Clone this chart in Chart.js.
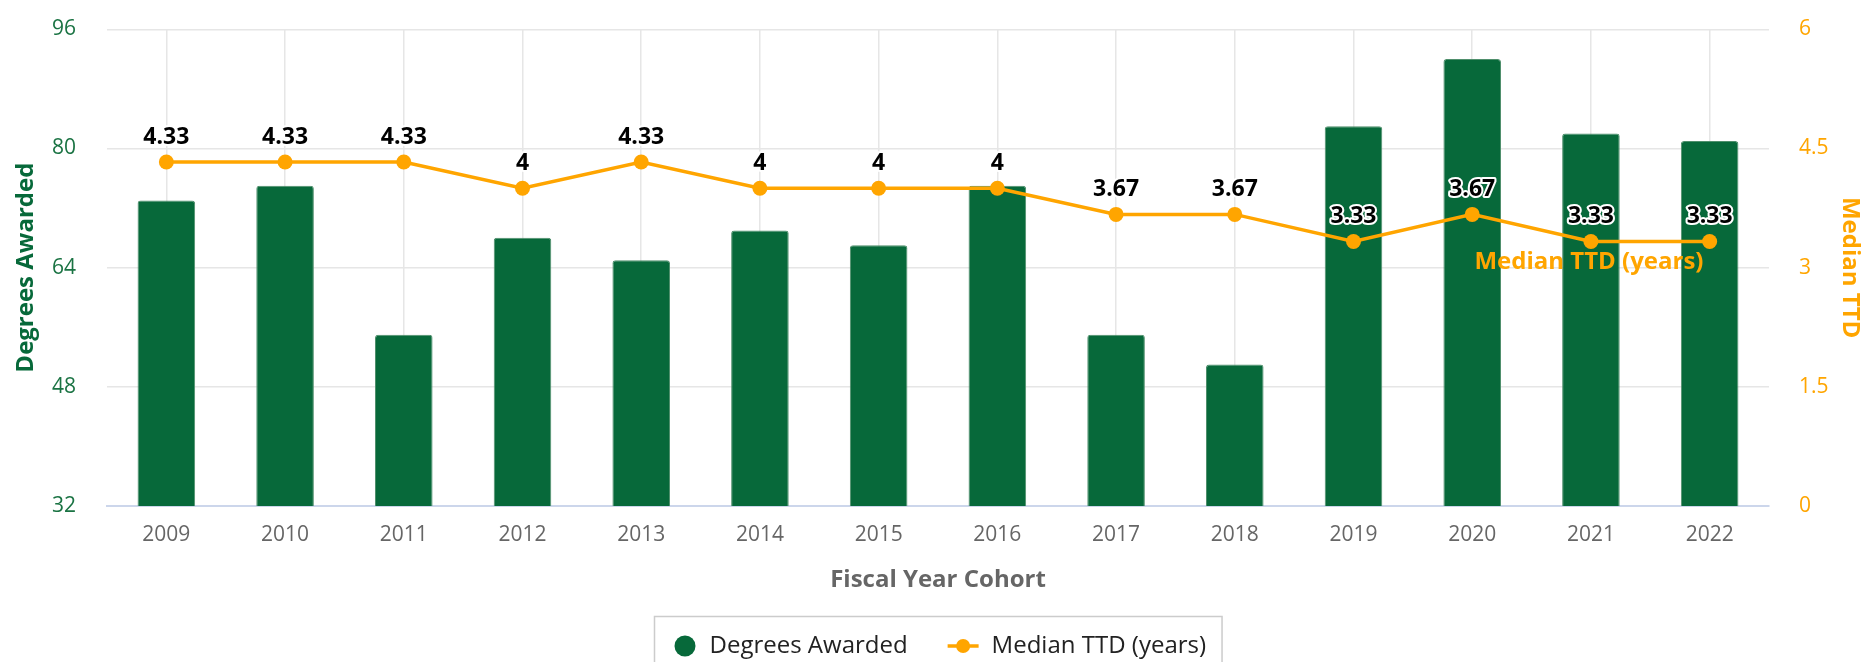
<!DOCTYPE html>
<html>
<head>
  <title>Degrees Awarded and Median TTD</title>
  <script src="https://cdn.jsdelivr.net/npm/chart.js"></script>
  <style>
    body {
      margin: 0;
      background-color: #fff;
    }
    canvas {
      display: block;
    }
  </style>
</head>
<body>
  <canvas id="ttdChart" width="1871" height="662"></canvas>

  <script>
    const years = ['2009', '2010', '2011', '2012', '2013', '2014', '2015', '2016', '2017', '2018', '2019', '2020', '2021', '2022'];
    const degreesAwarded = [73, 75, 55, 68, 65, 69, 67, 75, 55, 51, 83, 92, 82, 81];
    const medianTTD = [4.33, 4.33, 4.33, 4, 4.33, 4, 4, 4, 3.67, 3.67, 3.33, 3.67, 3.33, 3.33];
    const leftTicks = [32, 48, 64, 80, 96];
    const rightTicks = [0, 1.5, 3, 4.5, 6];

    const green = '#07693a';
    const orange = '#ffa500';

    Chart.defaults.font.family = "'Open Sans', sans-serif";

    // black value labels above the line points + the series name near the end
    const pointLabels = {
      id: 'pointLabels',
      afterDatasetsDraw(chart) {
        const ctx = chart.ctx;
        const pts = chart.getDatasetMeta(1).data;
        ctx.save();
        ctx.font = "bold 23px 'Open Sans'";
        ctx.textAlign = 'center';
        ctx.textBaseline = 'middle';
        ctx.lineJoin = 'round';
        ctx.lineWidth = 4;
        ctx.strokeStyle = '#fff';
        ctx.fillStyle = '#000';
        pts.forEach((pt, i) => {
          const txt = String(medianTTD[i]);
          ctx.strokeText(txt, pt.x, pt.y - 25);
          ctx.fillText(txt, pt.x, pt.y - 25);
        });

        const a = pts[pts.length - 2], b = pts[pts.length - 1];
        ctx.font = "bold 24px 'Open Sans'";
        ctx.fillStyle = orange;
        ctx.fillText('Median TTD (years)', a.x - 2, b.y + 21);
        ctx.restore();
      }
    };

    // boxed legend under the axis title
    const boxLegend = {
      id: 'boxLegend',
      afterDraw(chart) {
        const ctx = chart.ctx;
        const area = chart.chartArea;
        const label1 = 'Degrees Awarded';
        const label2 = 'Median TTD (years)';
        ctx.save();
        ctx.font = "24px 'Open Sans'";
        const w1 = ctx.measureText(label1).width;
        const w2 = ctx.measureText(label2).width;
        const total = 20 + 21 + 14 + w1 + 40 + 31 + 13 + w2 + 16;
        const left = Math.round((area.left + area.right) / 2 - total / 2) + 0.5;
        const top = Math.round(area.bottom + 110) + 0.5;
        const cy = area.bottom + 140;

        ctx.strokeStyle = '#cccccc';
        ctx.lineWidth = 1.5;
        ctx.strokeRect(left, top, total, 70);

        let x = left + 20;
        ctx.fillStyle = green;
        ctx.beginPath();
        ctx.arc(x + 10.5, cy, 10.5, 0, Math.PI * 2);
        ctx.fill();
        x += 21 + 14;

        ctx.fillStyle = '#222';
        ctx.textBaseline = 'middle';
        ctx.fillText(label1, x, cy);
        x += w1 + 40;

        ctx.strokeStyle = orange;
        ctx.lineWidth = 3.5;
        ctx.beginPath();
        ctx.moveTo(x, cy);
        ctx.lineTo(x + 31, cy);
        ctx.stroke();
        ctx.fillStyle = orange;
        ctx.beginPath();
        ctx.arc(x + 15.5, cy, 7, 0, Math.PI * 2);
        ctx.fill();
        x += 31 + 13;

        ctx.fillStyle = '#222';
        ctx.fillText(label2, x, cy);
        ctx.restore();
      }
    };

    const ctx = document.getElementById('ttdChart').getContext('2d');

    new Chart(ctx, {
      type: 'bar',
      data: {
        labels: years,
        datasets: [{
          type: 'bar',
          label: 'Degrees Awarded',
          data: degreesAwarded,
          backgroundColor: green,
          borderColor: '#4f8f6c',
          borderWidth: 1,
          borderRadius: { topLeft: 3, topRight: 3 },
          borderSkipped: 'bottom',
          categoryPercentage: 0.485,
          barPercentage: 1,
          yAxisID: 'y',
          order: 2
        }, {
          type: 'line',
          label: 'Median TTD (years)',
          data: medianTTD,
          borderColor: orange,
          backgroundColor: orange,
          borderWidth: 3.5,
          pointRadius: 7.5,
          pointHoverRadius: 7.5,
          pointBorderWidth: 0,
          tension: 0,
          yAxisID: 'y1',
          order: 1
        }]
      },
      options: {
        responsive: false,
        animation: false,
        layout: {
          padding: { top: 29.3, left: 0, right: 0, bottom: 0 }
        },
        plugins: {
          legend: { display: false },
          tooltip: { enabled: false }
        },
        scales: {
          x: {
            grid: {
              offset: false,
              color: '#e6e6e6',
              lineWidth: 1.5,
              drawTicks: false
            },
            border: { color: '#ccd6eb', width: 2 },
            ticks: {
              color: '#666666',
              font: { size: 21 },
              padding: 16
            },
            title: {
              display: true,
              text: 'Fiscal Year Cohort',
              color: '#666666',
              font: { size: 24, weight: 'bold' },
              padding: { top: 0, bottom: 67 }
            },
            afterFit(scale) {
              scale.height = 156;
            }
          },
          y: {
            position: 'left',
            min: 32,
            max: 96,
            afterBuildTicks(scale) {
              scale.ticks = leftTicks.map(v => ({ value: v }));
            },
            grid: {
              color: '#e6e6e6',
              lineWidth: 1.5,
              drawTicks: false
            },
            border: { display: false },
            ticks: {
              color: '#1a7343',
              font: { size: 21 },
              padding: 31
            },
            title: {
              display: true,
              text: 'Degrees Awarded',
              color: green,
              font: { size: 24, weight: 'bold' },
              padding: { top: 11.5, bottom: 0 }
            },
            afterFit(scale) {
              scale.width = 107;
              scale.paddingTop = 0;
              scale.paddingBottom = 0;
            }
          },
          y1: {
            position: 'right',
            min: 0,
            max: 6,
            afterBuildTicks(scale) {
              scale.ticks = rightTicks.map(v => ({ value: v }));
            },
            grid: { display: false, drawTicks: false },
            border: { display: false },
            ticks: {
              color: orange,
              font: { size: 21 },
              padding: 30
            },
            title: {
              display: true,
              text: 'Median TTD',
              color: orange,
              font: { size: 24, weight: 'bold' },
              padding: { top: 7, bottom: 0 }
            },
            afterFit(scale) {
              scale.width = 102;
              scale.paddingTop = 0;
              scale.paddingBottom = 0;
            }
          }
        }
      },
      plugins: [pointLabels, boxLegend]
    });
  </script>
</body>
</html>
